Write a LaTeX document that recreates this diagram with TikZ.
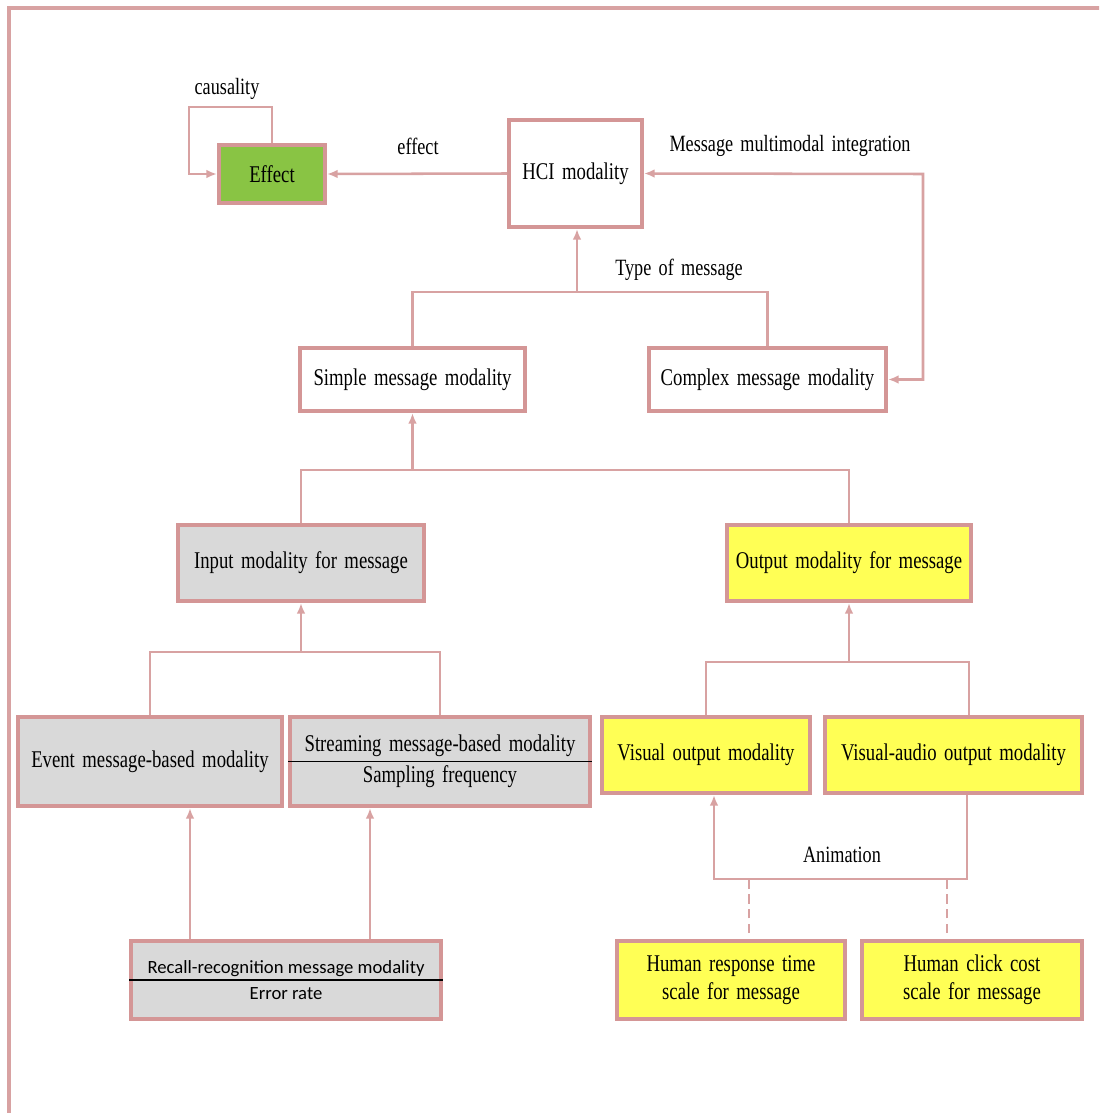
\documentclass[tikz,border=0pt]{standalone}
\usepackage{fontspec}
\setmainfont{Liberation Serif}[FakeStretch=0.78, WordSpace=1.6]
\newfontfamily\recallfont{Carlito}
\usepackage{tikz}
\usetikzlibrary{arrows,arrows.meta,calc}

\definecolor{rimpink}{RGB}{212,150,150}
\definecolor{linkpink}{RGB}{216,162,162}
\definecolor{boxgray}{RGB}{217,217,217}
\definecolor{boxyellow}{RGB}{255,255,85}
\definecolor{boxgreen}{RGB}{137,196,68}

\tikzset{
  mbox/.style={draw=rimpink, line width=3pt, inner sep=0pt, align=center,
    font=\fontsize{18}{21}\selectfont},
  link/.style={linkpink, line width=1.9pt, >={Latex[length=8pt,width=6.5pt]}},
  lbl/.style={inner sep=0pt, font=\fontsize{17.5}{21}\selectfont}
}

\begin{document}
\begin{tikzpicture}[x=0.75pt, y=-0.75pt]
\useasboundingbox (0,0) rectangle (1099,1113);
\clip (0,0) rectangle (1099,1113);
\draw [linkpink, line width=2.8pt] (9,8) rectangle (1130,1140);

% top row
\node [mbox, fill=boxgreen, minimum width=79.5pt, minimum height=43.5pt] (effect) at (272,174) {Effect};
\node [mbox, fill=white, minimum width=99.75pt, minimum height=80.25pt] (hci) at (575.5,173.5) {HCI modality};

% message type
\node [mbox, fill=white, minimum width=168.75pt, minimum height=47.25pt] (simple) at (412.5,379.5) {Simple message modality};
\node [mbox, fill=white, minimum width=177.75pt, minimum height=47.25pt] (complex) at (767.5,379.5) {Complex message modality};

% input / output
\node [mbox, fill=boxgray, minimum width=184.5pt, minimum height=57pt] (input) at (301,563) {Input modality for message};
\node [mbox, fill=boxyellow, minimum width=183pt, minimum height=57pt] (output) at (849,563) {Output modality for message};

% input kinds
\node [mbox, fill=boxgray, minimum width=198pt, minimum height=66.75pt] (event) at (150,761.5) {Event message-based modality};
\node [mbox, fill=boxgray, minimum width=225pt, minimum height=66.75pt] (stream) at (440,761.5) {Streaming message-based modality\\[2pt] Sampling frequency};
\node [mbox, fill=boxgray, minimum width=232.5pt, minimum height=58.5pt, font=\recallfont\fontsize{14}{17}\selectfont] (recall) at (286,980) {Recall-recognition message modality\\[3pt] Error rate};

% output kinds
\node [mbox, fill=boxyellow, minimum width=156pt, minimum height=57pt] (visual) at (706,755) {Visual output modality};
\node [mbox, fill=boxyellow, minimum width=192.75pt, minimum height=57pt] (vaudio) at (953.5,755) {Visual-audio output modality};
\node [mbox, fill=boxyellow, minimum width=171pt, minimum height=58.5pt] (response) at (731,980) {Human response time\\ scale for message};
\node [mbox, fill=boxyellow, minimum width=165pt, minimum height=58.5pt] (click) at (972,980) {Human click cost\\ scale for message};

% separators
\draw [black, line width=0.8pt] (stream.west) -- (stream.east);
\draw [black, line width=0.8pt] (recall.west) -- (recall.east);

% labels
\node [lbl] (causlbl) at (227,89) {causality};
\node [lbl] (efflbl) at (418,146) {effect};
\node [lbl] (mmilbl) at (790,146) {Message multimodal integration};
\node [lbl] (typelbl) at (679,270) {Type of message};
\node [lbl] (animlbl) at (842,855) {Animation};

% joints
\coordinate (causa) at (189,107);
\coordinate (mmicorner) at (923,174);
\coordinate (typejoin) at (577,292);
\coordinate (msgjoin) at (412.5,470);
\coordinate (injoin) at (301,652);
\coordinate (outjoin) at (849,662);
\coordinate (animbase) at (842,879);
\coordinate (rl) at ([xshift=-72pt]recall.north);
\coordinate (rr) at ([xshift=63pt]recall.north);
\coordinate (rtop) at ([xshift=13.5pt,yshift=4.5pt]response.north);
\coordinate (ctop) at ([xshift=-18.75pt,yshift=4.5pt]click.north);

% connectors
\draw [link, ->] (effect.north) |- (causa) |- (effect.west);
\draw [link, ->] (hci.west) -- (effect.east);
\draw [link, <->] (complex.east) -| (mmicorner) -- (hci.east);
\draw [link, ->] (typejoin) -- (typejoin |- hci.south);
\draw [link] (simple.north) |- (typejoin) -| (complex.north);
\draw [link, ->] (msgjoin) -- (simple.south);
\draw [link] (input.north) |- (msgjoin) -| (output.north);
\draw [link, ->] (injoin) -- (input.south);
\draw [link] (event.north) |- (injoin) -| (stream.north);
\draw [link, ->] (outjoin) -- (output.south);
\draw [link] (visual.north) |- (outjoin) -| ([xshift=11.6pt]vaudio.north);
\draw [link, <-] ([xshift=6pt]visual.south) |- (animbase) -| ([xshift=10pt]vaudio.south);
\draw [link, ->] (rl) -- (rl |- event.south);
\draw [link, ->] (rr) -- (rr |- stream.south);
\draw [link, dash pattern=on 7pt off 4pt] (rtop) -- (rtop |- animbase);
\draw [link, dash pattern=on 7pt off 4pt] (ctop) -- (ctop |- animbase);

\end{tikzpicture}
\end{document}
